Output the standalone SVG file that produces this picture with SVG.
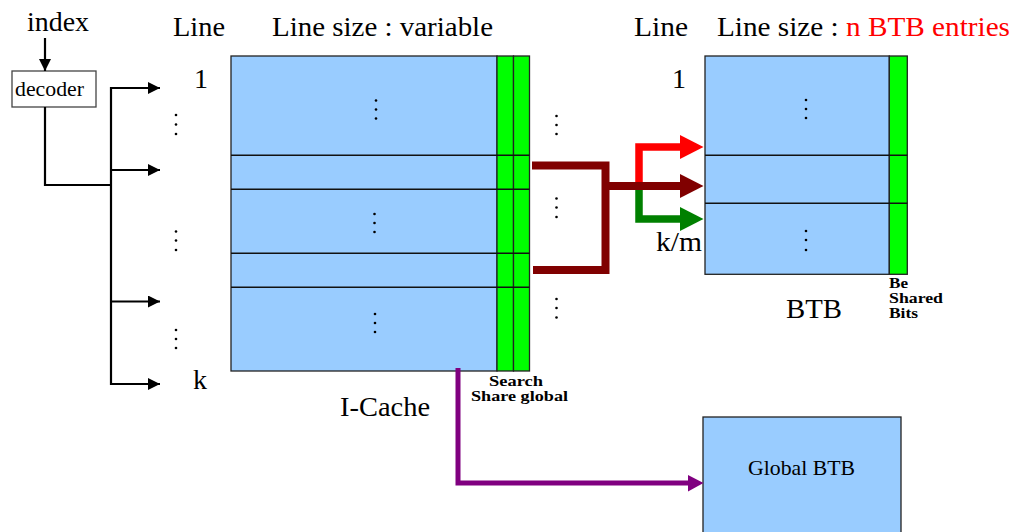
<svg xmlns="http://www.w3.org/2000/svg" width="1014" height="532" viewBox="0 0 1014 532">
<defs>
<style>
.t{font-family:"Liberation Serif","Times New Roman",serif;fill:#000}
.big{font-size:28px}
.b{font-family:"Liberation Serif","Times New Roman",serif;font-weight:bold;fill:#000;font-size:15px}
.blue{fill:#99CCFF;stroke:#222;stroke-width:1.3}
.grn{fill:#00FF00;stroke:#222;stroke-width:1.3}
.ln{stroke:#111;stroke-width:1.5}
.blk{fill:none;stroke:#000;stroke-width:2.2}
</style>
<marker id="ah" viewBox="0 0 12 12" refX="12" refY="6" markerWidth="12" markerHeight="12" markerUnits="userSpaceOnUse" orient="auto"><path d="M0,0 L12,6 L0,12 Z" fill="#000"/></marker>
</defs>
<rect width="1014" height="532" fill="#fff"/>

<!-- headers -->
<text class="t" x="27" y="31" font-size="27" textLength="62" lengthAdjust="spacingAndGlyphs">index</text>
<text class="t big" x="173" y="36" textLength="52" lengthAdjust="spacingAndGlyphs">Line</text>
<text class="t big" x="272" y="36" textLength="221" lengthAdjust="spacingAndGlyphs">Line size : variable</text>
<text class="t big" x="634" y="36" textLength="54" lengthAdjust="spacingAndGlyphs">Line</text>
<text class="t big" x="717" y="36" textLength="293" lengthAdjust="spacingAndGlyphs">Line size : <tspan fill="#FF0000">n BTB entries</tspan></text>
<text class="t big" x="194" y="88">1</text>
<text class="t big" x="193" y="389">k</text>
<text class="t big" x="672" y="88">1</text>

<!-- decoder node -->
<g id="decoder">
<rect x="12" y="71" width="84" height="36" fill="#fff" stroke="#444" stroke-width="1.3"/>
<text class="t" x="15" y="96" font-size="20" textLength="69" lengthAdjust="spacingAndGlyphs">decoder</text>
</g>

<!-- I-Cache node -->
<g id="icache">
<rect class="blue" x="231" y="56" width="266" height="315"/>
<rect class="grn" x="497" y="56" width="16.5" height="315"/>
<rect class="grn" x="513.5" y="56" width="16" height="315"/>
<line class="ln" x1="231" y1="155.3" x2="529.5" y2="155.3"/>
<line class="ln" x1="231" y1="189.3" x2="529.5" y2="189.3"/>
<line class="ln" x1="231" y1="253.3" x2="529.5" y2="253.3"/>
<line class="ln" x1="231" y1="287.3" x2="529.5" y2="287.3"/>
<g fill="#000">
<circle cx="376" cy="100.5" r="1.3"/><circle cx="376" cy="109.5" r="1.3"/><circle cx="376" cy="118.5" r="1.3"/>
<circle cx="374.5" cy="214" r="1.3"/><circle cx="374.5" cy="223" r="1.3"/><circle cx="374.5" cy="232" r="1.3"/>
<circle cx="375" cy="314" r="1.3"/><circle cx="375" cy="323" r="1.3"/><circle cx="375" cy="332" r="1.3"/>
</g>
<text class="t big" x="340" y="416" textLength="90" lengthAdjust="spacingAndGlyphs">I-Cache</text>
<text class="b" x="489" y="386" textLength="54" lengthAdjust="spacingAndGlyphs">Search</text>
<text class="b" x="471" y="400.5" textLength="97" lengthAdjust="spacingAndGlyphs">Share global</text>
</g>

<!-- BTB node -->
<g id="btb">
<rect class="blue" x="705" y="56" width="184.3" height="218.3"/>
<rect class="grn" x="889.3" y="56" width="18" height="218.3"/>
<line class="ln" x1="705" y1="155.3" x2="907.3" y2="155.3"/>
<line class="ln" x1="705" y1="203.3" x2="907.3" y2="203.3"/>
<g fill="#000">
<circle cx="806" cy="100" r="1.3"/><circle cx="806" cy="109" r="1.3"/><circle cx="806" cy="118" r="1.3"/>
<circle cx="806" cy="231" r="1.3"/><circle cx="806" cy="240" r="1.3"/><circle cx="806" cy="250" r="1.3"/>
</g>
<text class="t big" x="786" y="318" textLength="56" lengthAdjust="spacingAndGlyphs">BTB</text>
<text class="b" x="889" y="288" font-size="15" textLength="19" lengthAdjust="spacingAndGlyphs">Be</text>
<text class="b" x="889" y="303" font-size="15" textLength="54" lengthAdjust="spacingAndGlyphs">Shared</text>
<text class="b" x="889" y="318" font-size="15" textLength="29" lengthAdjust="spacingAndGlyphs">Bits</text>
</g>

<!-- Global BTB node -->
<g id="globalbtb">
<rect class="blue" x="703" y="417" width="198" height="125"/>
<text class="t" x="748" y="475" font-size="21" textLength="107" lengthAdjust="spacingAndGlyphs">Global BTB</text>
</g>

<!-- dots between -->
<g fill="#000">
<circle cx="176" cy="115" r="1.3"/><circle cx="176" cy="124.5" r="1.3"/><circle cx="176" cy="134" r="1.3"/>
<circle cx="176" cy="231.5" r="1.3"/><circle cx="176" cy="240.5" r="1.3"/><circle cx="176" cy="250" r="1.3"/>
<circle cx="176" cy="330" r="1.3"/><circle cx="176" cy="339" r="1.3"/><circle cx="176" cy="348" r="1.3"/>
<circle cx="556.5" cy="116" r="1.3"/><circle cx="556.5" cy="125" r="1.3"/><circle cx="556.5" cy="134" r="1.3"/>
<circle cx="556.5" cy="198.5" r="1.3"/><circle cx="556.5" cy="207.5" r="1.3"/><circle cx="556.5" cy="217" r="1.3"/>
<circle cx="556.5" cy="299" r="1.3"/><circle cx="556.5" cy="308" r="1.3"/><circle cx="556.5" cy="317.5" r="1.3"/>
</g>
<text class="t big" x="656" y="251" textLength="46" lengthAdjust="spacingAndGlyphs">k/m</text>

<!-- connectors -->
<g id="connectors">
<line class="blk" x1="45" y1="38" x2="45" y2="71" marker-end="url(#ah)"/>
<polyline class="blk" points="45,107 45,185 111,185"/>
<line class="blk" x1="111" y1="87" x2="111" y2="385"/>
<line class="blk" x1="110" y1="88" x2="160" y2="88" marker-end="url(#ah)"/>
<line class="blk" x1="110" y1="170" x2="160" y2="170" marker-end="url(#ah)"/>
<line class="blk" x1="110" y1="301.5" x2="160" y2="301.5" marker-end="url(#ah)"/>
<line class="blk" x1="110" y1="384" x2="160" y2="384" marker-end="url(#ah)"/>

<!-- dark red bracket -->
<polyline points="532,165.5 605.5,165.5 605.5,270 533,270" fill="none" stroke="#800000" stroke-width="8"/>
<!-- red -->
<polyline points="639,186 639,147 681,147" fill="none" stroke="#FF0000" stroke-width="7.5"/>
<path d="M680,135 L703.5,147 L680,159 Z" fill="#FF0000"/>
<!-- green -->
<polyline points="639,186 639,219 681,219" fill="none" stroke="#008000" stroke-width="7.5"/>
<path d="M680,207 L703.5,219 L680,231 Z" fill="#008000"/>
<!-- dark red main -->
<line x1="605.5" y1="186" x2="681" y2="186" stroke="#800000" stroke-width="8"/>
<path d="M680,174 L703.5,186 L680,198 Z" fill="#800000"/>
<!-- purple -->
<polyline points="458,368 458,483 689,483" fill="none" stroke="#800080" stroke-width="5"/>
<path d="M688,475 L703.5,483 L688,491.5 Z" fill="#800080"/>
</g>
</svg>
